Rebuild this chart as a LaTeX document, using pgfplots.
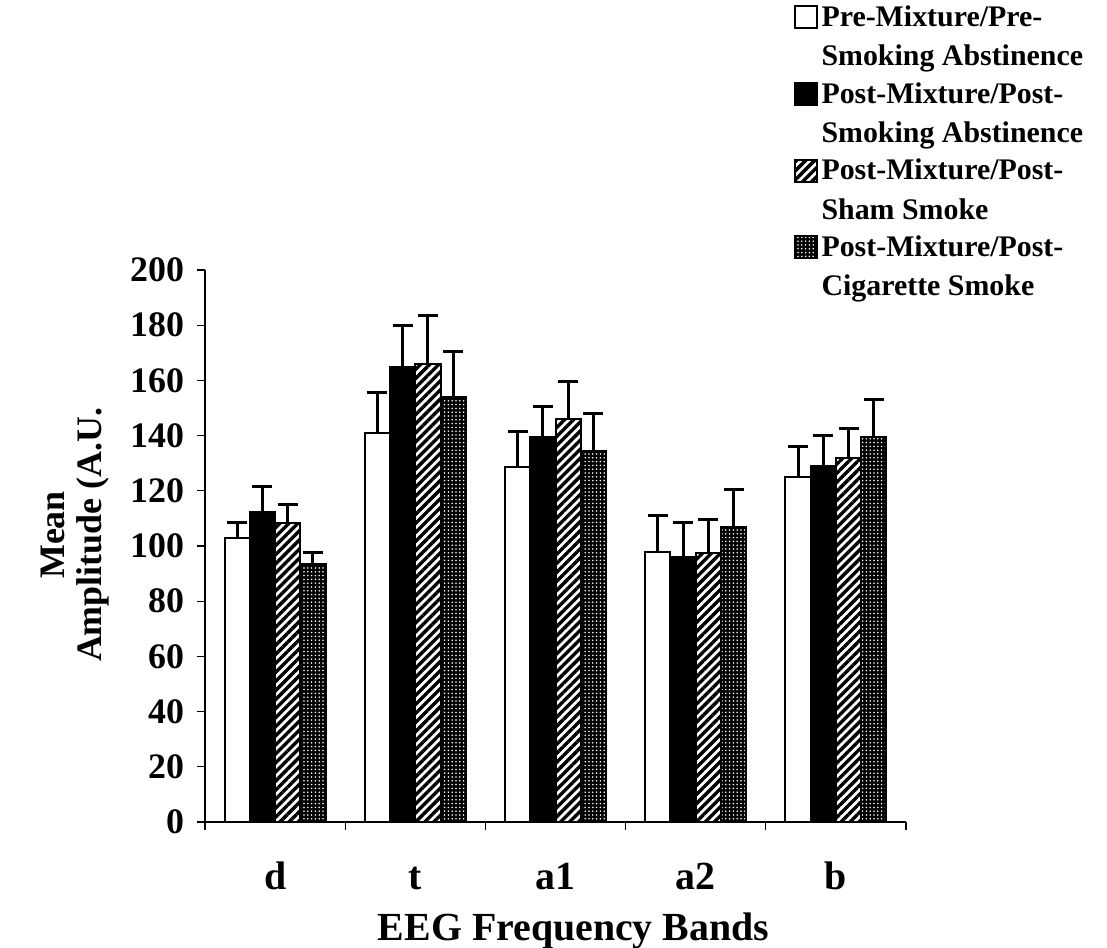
\documentclass[border=0pt]{standalone}
\usepackage{pgfplots}
\pgfplotsset{compat=1.18}
\usetikzlibrary{patterns.meta}
\usepackage{fontspec}
\setmainfont{Liberation Serif}

\pgfplotstableread{
x y e
0 103 5.5
1 141 14.5
2 128.5 13
3 98 13
4 125 11
}\pre
\pgfplotstableread{
x y e
0 112.5 9
1 165 15
2 139.5 11
3 96 12.5
4 129 11
}\postabs
\pgfplotstableread{
x y e
0 108.5 6.5
1 166 17.5
2 146 13.5
3 97.5 12
4 132 10.5
}\sham
\pgfplotstableread{
x y e
0 93.5 4
1 154 16.5
2 134.5 13.5
3 107 13.5
4 139.5 13.5
}\cig

\begin{document}
\begin{tikzpicture}
\begin{axis}[
  scale only axis, width=350.5bp, height=276bp,
  xmin=-0.5, xmax=4.5, ymin=0, ymax=200,
  axis lines=left, axis line style={-, line width=0.6bp},
  x axis line style={line width=1.2bp},
  ybar=0pt, bar width=0.18,
  xtick={0,...,4}, xticklabels={d,t,a1,a2,b},
  minor xtick={-0.5,0.5,...,4.5},
  ytick={0,20,...,200},
  tick align=outside,
  major x tick style={draw=none},
  major tick length=4bp, minor tick length=4bp,
  tick style={black, line width=0.6bp},
  /pgf/number format/assume math mode=true,
  yticklabel style={font=\fontsize{18}{20}\selectfont\bfseries, xshift=-3bp},
  xticklabel style={font=\fontsize{20}{22}\selectfont\bfseries, yshift=-12bp, text height=14bp, text depth=1bp},
  xlabel={EEG Frequency Bands},
  xlabel style={font=\fontsize{20}{22}\selectfont\bfseries, xshift=9bp, yshift=-4bp},
  ylabel={Mean\\Amplitude (A.U.},
  ylabel style={align=center, font=\fontsize{18}{18.5}\selectfont\bfseries,
    at={(axis description cs:-0.185,0.52)}, anchor=center},
  legend style={at={(0.839,1.487)}, anchor=north west, draw=none, fill=none,
    font=\fontsize{15}{19.8}\selectfont\bfseries, cells={align=left},
    row sep=2.8bp, inner sep=0pt},
  legend cell align=left,
  legend image code/.code={\draw[#1, line width=1bp] (0bp,4.5bp) rectangle (11bp,15.5bp);},
  every axis plot/.append style={line width=1bp, draw=black,
    error bars/y dir=plus, error bars/y explicit,
    error bars/error bar style={line width=1.5bp, black},
    error bars/error mark options={rotate=90, mark size=5bp, line width=1.5bp, black}},
]
\addplot[fill=white] table[x=x, y=y, y error=e] {\pre};
\addplot[fill=black] table[x=x, y=y, y error=e] {\postabs};
\addplot[pattern={Lines[angle=45, distance=3.2bp, line width=1.7bp]}, pattern color=black] table[x=x, y=y, y error=e] {\sham};
\addplot[fill=black, postaction={pattern={Dots[distance=1.9bp, radius=0.45bp]}, pattern color=white}] table[x=x, y=y, y error=e] {\cig};
\legend{Pre-Mixture/Pre-\\Smoking Abstinence, Post-Mixture/Post-\\Smoking Abstinence, Post-Mixture/Post-\\Sham Smoke, Post-Mixture/Post-\\Cigarette Smoke}
\coordinate (BL) at (rel axis cs:0,0);
\end{axis}
\pgfresetboundingbox
\path (BL) ++(-102.5bp,-63bp) rectangle ++(553.5bp,474bp);
\end{tikzpicture}
\end{document}
